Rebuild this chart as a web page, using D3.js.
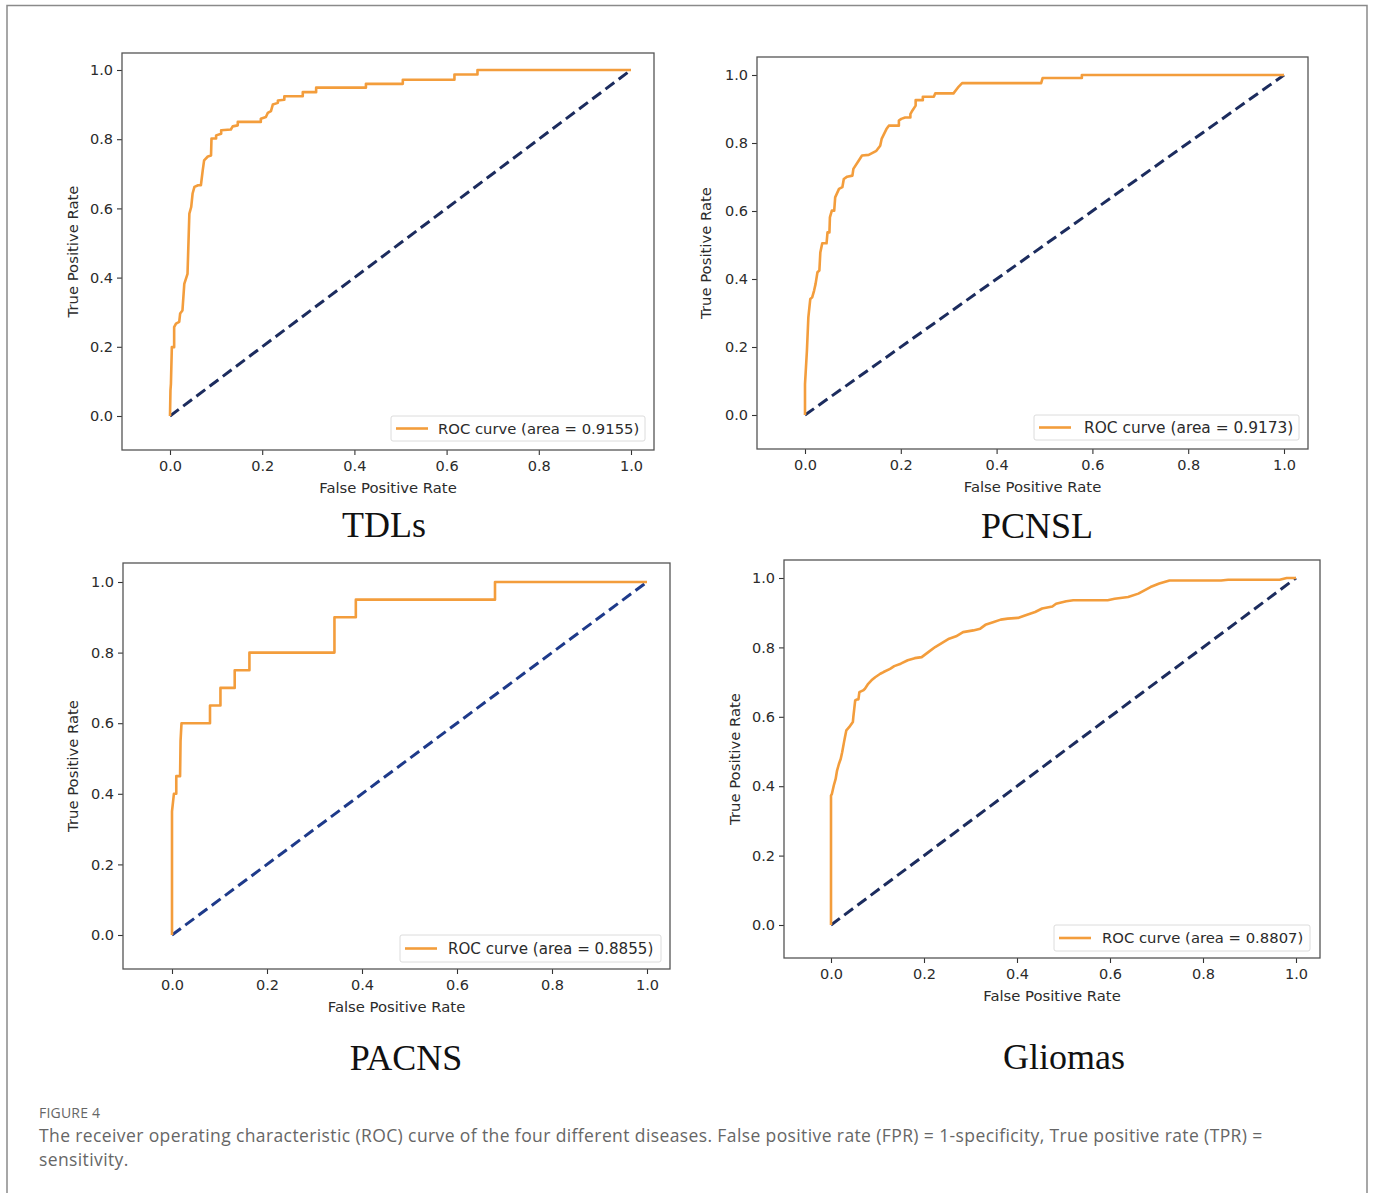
<!DOCTYPE html>
<html>
<head>
<meta charset="utf-8">
<script src="https://cdn.jsdelivr.net/npm/d3@7"></script>
<style>
  html, body { margin: 0; padding: 0; background: #fff; }
  svg { display: block; }
</style>
</head>
<body>
<svg id="chart" width="1375" height="1193"></svg>
<script>
// ---------- DATA ----------
const panelTitles = ["TDLs", "PCNSL", "PACNS", "Gliomas"];
const aucLabels = [
  "ROC curve (area = 0.9155)",
  "ROC curve (area = 0.9173)",
  "ROC curve (area = 0.8855)",
  "ROC curve (area = 0.8807)"
];
const tickValues = [0.0, 0.2, 0.4, 0.6, 0.8, 1.0];
const xAxisLabel = "False Positive Rate";
const yAxisLabel = "True Positive Rate";
const chanceFPR = [0, 1];
const chanceTPR = [0, 1];

const tdlsFPR = [0, 0.001, 0.002, 0.004, 0.009, 0.009, 0.013, 0.020, 0.022, 0.027, 0.031, 0.038, 0.042, 0.046, 0.049, 0.053, 0.061, 0.067, 0.071, 0.074, 0.082, 0.089, 0.090, 0.100, 0.100, 0.111, 0.111, 0.132, 0.136, 0.147, 0.147, 0.197, 0.197, 0.208, 0.212, 0.219, 0.223, 0.234, 0.234, 0.248, 0.248, 0.288, 0.288, 0.317, 0.317, 0.425, 0.425, 0.505, 0.505, 0.617, 0.617, 0.667, 0.667, 1.0];
const tdlsTPR = [0, 0.074, 0.093, 0.199, 0.199, 0.257, 0.267, 0.272, 0.296, 0.305, 0.382, 0.411, 0.585, 0.604, 0.643, 0.662, 0.667, 0.667, 0.710, 0.739, 0.750, 0.753, 0.802, 0.802, 0.811, 0.816, 0.826, 0.828, 0.837, 0.840, 0.850, 0.850, 0.859, 0.864, 0.876, 0.881, 0.900, 0.905, 0.912, 0.914, 0.924, 0.924, 0.936, 0.936, 0.949, 0.949, 0.960, 0.960, 0.972, 0.972, 0.987, 0.987, 1.0, 1.0];

const pcnslFPR = [0, 0, 0.004, 0.007, 0.011, 0.015, 0.019, 0.022, 0.026, 0.030, 0.032, 0.036, 0.045, 0.047, 0.051, 0.052, 0.056, 0.061, 0.063, 0.071, 0.078, 0.081, 0.088, 0.099, 0.101, 0.112, 0.119, 0.133, 0.149, 0.157, 0.160, 0.170, 0.175, 0.196, 0.196, 0.201, 0.209, 0.220, 0.220, 0.224, 0.231, 0.231, 0.246, 0.246, 0.269, 0.272, 0.310, 0.321, 0.328, 0.493, 0.496, 0.578, 0.578, 1.0];
const pcnslTPR = [0, 0.091, 0.189, 0.287, 0.341, 0.346, 0.366, 0.385, 0.420, 0.425, 0.478, 0.505, 0.505, 0.537, 0.537, 0.581, 0.601, 0.601, 0.640, 0.665, 0.670, 0.694, 0.701, 0.704, 0.724, 0.748, 0.763, 0.765, 0.777, 0.792, 0.812, 0.841, 0.851, 0.851, 0.866, 0.871, 0.875, 0.875, 0.885, 0.895, 0.910, 0.926, 0.926, 0.936, 0.936, 0.946, 0.946, 0.966, 0.976, 0.976, 0.991, 0.991, 1.0, 1.0];

const pacnsFPR = [0, 0, 0.004, 0.009, 0.009, 0.017, 0.018, 0.020, 0.080, 0.080, 0.102, 0.102, 0.132, 0.132, 0.163, 0.163, 0.342, 0.342, 0.387, 0.387, 0.680, 0.680, 1.0];
const pacnsTPR = [0, 0.35, 0.40, 0.40, 0.45, 0.45, 0.55, 0.60, 0.60, 0.65, 0.65, 0.70, 0.70, 0.75, 0.75, 0.80, 0.80, 0.90, 0.90, 0.95, 0.95, 1.0, 1.0];

const gliomasFPR = [0, 0, 0.002, 0.006, 0.010, 0.013, 0.017, 0.021, 0.024, 0.028, 0.030, 0.033, 0.039, 0.047, 0.048, 0.050, 0.052, 0.056, 0.059, 0.061, 0.069, 0.073, 0.080, 0.087, 0.095, 0.106, 0.113, 0.127, 0.136, 0.150, 0.165, 0.180, 0.195, 0.210, 0.224, 0.239, 0.254, 0.269, 0.284, 0.306, 0.321, 0.332, 0.350, 0.365, 0.380, 0.402, 0.417, 0.439, 0.454, 0.476, 0.484, 0.506, 0.521, 0.595, 0.610, 0.639, 0.661, 0.687, 0.706, 0.728, 0.839, 0.854, 0.965, 0.980, 1.0];
const gliomasTPR = [0, 0.373, 0.378, 0.402, 0.421, 0.445, 0.464, 0.479, 0.498, 0.527, 0.541, 0.561, 0.570, 0.585, 0.599, 0.623, 0.647, 0.650, 0.650, 0.671, 0.676, 0.681, 0.695, 0.705, 0.714, 0.724, 0.729, 0.738, 0.746, 0.753, 0.763, 0.769, 0.772, 0.787, 0.801, 0.813, 0.825, 0.832, 0.844, 0.849, 0.854, 0.865, 0.873, 0.880, 0.883, 0.885, 0.892, 0.902, 0.912, 0.918, 0.926, 0.933, 0.936, 0.936, 0.940, 0.945, 0.955, 0.974, 0.984, 0.993, 0.993, 0.995, 0.995, 1.0, 1.0];

const rocFPR = [tdlsFPR, pcnslFPR, pacnsFPR, gliomasFPR];
const rocTPR = [tdlsTPR, pcnslTPR, pacnsTPR, gliomasTPR];

const captionHead = "FIGURE 4";
const captionLines = [
  "The receiver operating characteristic (ROC) curve of the four different diseases. False positive rate (FPR) = 1-specificity, True positive rate (TPR) =",
  "sensitivity."
];

// ---------- LAYOUT ----------
const layout = [
  { box: [122, 53, 654, 450], xr: [170, 631], yr: [416, 70], leg: [391, 416, 645, 441], legFs: 14.8, legTx: 47, yLabX: 73, title: [384, 537], diagColor: "#1c2c5e" },
  { box: [757, 57, 1308, 449], xr: [805, 1284], yr: [415, 75], leg: [1034, 415, 1299, 440], legFs: 15.4, legTx: 50, yLabX: 706, title: [1037, 538], diagColor: "#1c2c5e" },
  { box: [123, 563, 670, 969], xr: [172, 647], yr: [935, 582], leg: [400, 935, 661, 962], legFs: 15.1, legTx: 48, yLabX: 73, title: [406, 1070], diagColor: "#1e3a8a" },
  { box: [784, 560, 1320, 958], xr: [831, 1296], yr: [925, 578], leg: [1054, 925, 1310, 951], legFs: 14.8, legTx: 48, yLabX: 735, title: [1064, 1069], diagColor: "#1c2c5e" }
];

const ORANGE = "#f39d3c";
const TEXTC = "#2b2b2b";
const svg = d3.select("#chart");

// outer frame
svg.append("path")
  .attr("d", "M7,1193 L7,5.5 L1367,5.5 L1367,1193")
  .attr("fill", "none").attr("stroke", "#8a8a8a").attr("stroke-width", 1.5);

const fmt = d3.format(".1f");

layout.forEach((L, i) => {
  const g = svg.append("g");
  const x = d3.scaleLinear().domain([0, 1]).range(L.xr);
  const y = d3.scaleLinear().domain([0, 1]).range(L.yr);
  const [bx0, by0, bx1, by1] = L.box;

  // axes
  const xAxis = d3.axisBottom(x).tickValues(tickValues).tickFormat(fmt).tickSize(5).tickPadding(6);
  const yAxis = d3.axisLeft(y).tickValues(tickValues).tickFormat(fmt).tickSize(5).tickPadding(4);
  const gx = g.append("g").attr("transform", `translate(0,${by1})`).call(xAxis);
  const gy = g.append("g").attr("transform", `translate(${bx0},0)`).call(yAxis);
  [gx, gy].forEach(a => {
    a.select(".domain").remove();
    a.selectAll(".tick line").attr("stroke", "#333").attr("stroke-width", 1.1);
    a.selectAll(".tick text")
      .attr("fill", TEXTC)
      .style("font-family", "'DejaVu Sans', sans-serif")
      .style("font-size", "14.5px");
  });

  // frame
  g.append("rect")
    .attr("x", bx0).attr("y", by0)
    .attr("width", bx1 - bx0).attr("height", by1 - by0)
    .attr("fill", "none").attr("stroke", "#555").attr("stroke-width", 1.3);

  // axis labels
  g.append("text")
    .attr("x", (bx0 + bx1) / 2).attr("y", by1 + 43)
    .attr("text-anchor", "middle")
    .attr("fill", TEXTC)
    .style("font-family", "'DejaVu Sans', sans-serif").style("font-size", "14.8px")
    .text(xAxisLabel);
  g.append("text")
    .attr("transform", `translate(${L.yLabX + 5},${(by0 + by1) / 2}) rotate(-90)`)
    .attr("text-anchor", "middle")
    .attr("fill", TEXTC)
    .style("font-family", "'DejaVu Sans', sans-serif").style("font-size", "14.8px")
    .text(yAxisLabel);

  // chance line
  const line = d3.line().x(d => x(d[0])).y(d => y(d[1]));
  g.append("path")
    .attr("d", line(d3.zip(chanceFPR, chanceTPR)))
    .attr("fill", "none").attr("stroke", L.diagColor)
    .attr("stroke-width", 3).attr("stroke-dasharray", "11,5.5");

  // ROC curve
  g.append("path")
    .attr("d", line(d3.zip(rocFPR[i], rocTPR[i])))
    .attr("fill", "none").attr("stroke", ORANGE)
    .attr("stroke-width", 2.6).attr("stroke-linejoin", "round");

  // legend
  const [lx0, ly0, lx1, ly1] = L.leg;
  const lg = g.append("g");
  lg.append("rect")
    .attr("x", lx0).attr("y", ly0).attr("width", lx1 - lx0).attr("height", ly1 - ly0)
    .attr("rx", 2).attr("fill", "#fff").attr("fill-opacity", 0.9)
    .attr("stroke", "#dcdcdc").attr("stroke-width", 1);
  const ly = (ly0 + ly1) / 2;
  lg.append("line")
    .attr("x1", lx0 + 5).attr("x2", lx0 + 37).attr("y1", ly).attr("y2", ly)
    .attr("stroke", ORANGE).attr("stroke-width", 2.6);
  lg.append("text")
    .attr("x", lx0 + L.legTx).attr("y", ly + 5)
    .attr("fill", TEXTC)
    .style("font-family", "'DejaVu Sans', sans-serif").style("font-size", L.legFs + "px")
    .text(aucLabels[i]);

  // panel title
  g.append("text")
    .attr("x", L.title[0]).attr("y", L.title[1])
    .attr("text-anchor", "middle")
    .attr("fill", "#111")
    .style("font-family", "'Liberation Serif', 'Times New Roman', serif")
    .style("font-size", "36px")
    .text(panelTitles[i]);
});

// caption
svg.append("text")
  .attr("x", 39).attr("y", 1118)
  .attr("fill", "#666")
  .style("font-family", "'Open Sans', sans-serif").style("font-size", "14px")
  .style("letter-spacing", "0.2px")
  .text(captionHead);
captionLines.forEach((t, k) => {
  svg.append("text")
    .attr("x", 39).attr("y", 1142 + k * 24)
    .attr("fill", "#666")
    .style("font-family", "'Open Sans', sans-serif").style("font-size", "17.5px")
    .style("letter-spacing", "0.39px")
    .text(t);
});
</script>
</body>
</html>
